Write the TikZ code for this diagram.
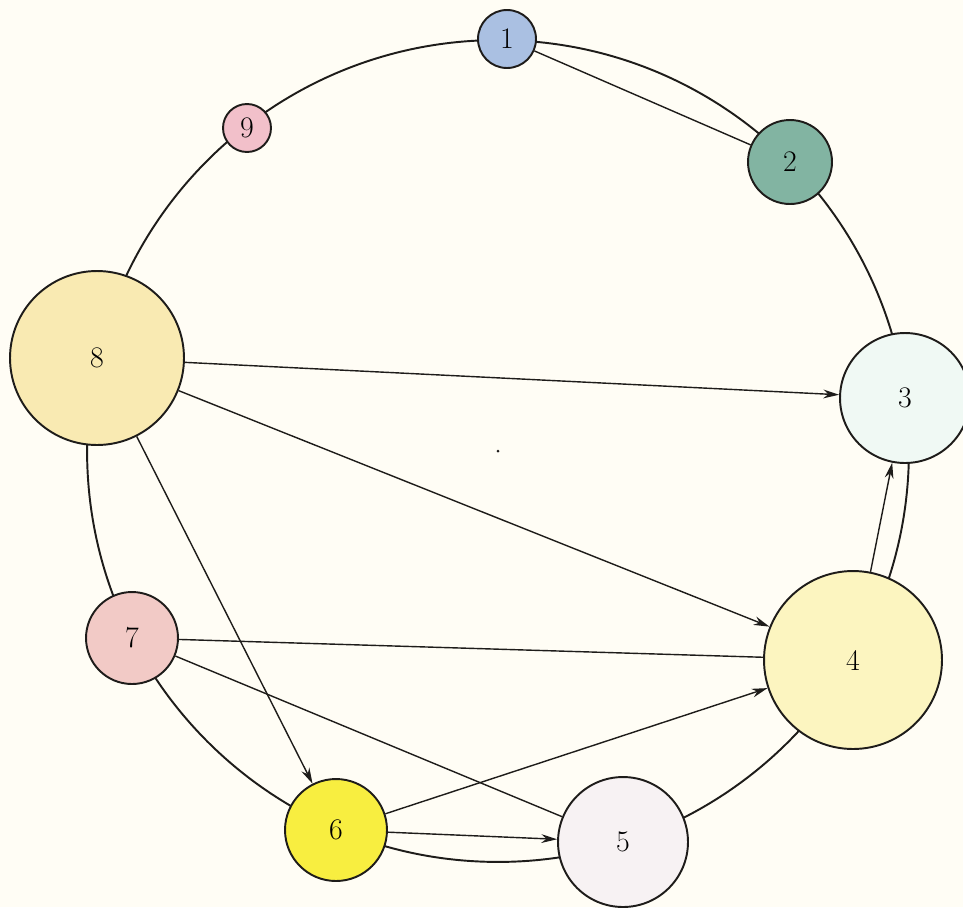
\documentclass[tikz,border=0pt]{standalone}
\usetikzlibrary{arrows.meta}
\definecolor{paper}{RGB}{255,253,245}
\definecolor{cOne}{RGB}{170,192,226}
\definecolor{cTwo}{RGB}{130,180,162}
\definecolor{cThree}{RGB}{240,249,244}
\definecolor{cFour}{RGB}{252,245,192}
\definecolor{cFive}{RGB}{247,242,243}
\definecolor{cSix}{RGB}{248,238,64}
\definecolor{cSeven}{RGB}{242,202,198}
\definecolor{cEight}{RGB}{249,234,178}
\definecolor{cNine}{RGB}{242,192,202}
\definecolor{ink}{RGB}{30,28,26}
\tikzset{
  vtx/.style={circle, draw=ink, line width=1.1pt, inner sep=0pt, font=\fontsize{17}{19}\selectfont},
  ring/.style={draw=ink, line width=1.1pt},
  link/.style={draw=ink, line width=0.8pt},
  arrowlink/.style={link, -{Stealth[length=9pt,width=5pt]}}
}
\begin{document}
\begin{tikzpicture}[x=0.02cm,y=-0.02cm]
\path[use as bounding box, fill=paper] (0,0) rectangle (963,907);
% the cycle through all vertices
\coordinate (ctr) at (498,451);
\draw[ring] (ctr) circle[radius=8.22cm];
\fill[ink] (ctr) circle[radius=0.03cm];
% vertices
\node[vtx, fill=cOne,   minimum size=1.16cm] (n1) at (507,39)  {1};
\node[vtx, fill=cTwo,   minimum size=1.68cm] (n2) at (790,162) {2};
\node[vtx, fill=cThree, minimum size=2.6cm]  (n3) at (905,398) {3};
\node[vtx, fill=cFour,  minimum size=3.56cm] (n4) at (853,660) {4};
\node[vtx, fill=cFive,  minimum size=2.6cm]  (n5) at (623,842) {5};
\node[vtx, fill=cSix,   minimum size=2.04cm] (n6) at (336,830) {6};
\node[vtx, fill=cSeven, minimum size=1.84cm] (n7) at (132,638) {7};
\node[vtx, fill=cEight, minimum size=3.48cm] (n8) at (97,358)  {8};
\node[vtx, fill=cNine,  minimum size=0.96cm] (n9) at (247,128) {9};
% chords
\draw[link] (n1) -- (n2);
\draw[link] (n7) -- (n4);
\draw[link] (n7) -- (n5);
\draw[arrowlink] (n8) -- (n3);
\draw[arrowlink] (n8) -- (n4);
\draw[arrowlink] (n8) -- (n6);
\draw[arrowlink] (n6) -- (n4);
\draw[arrowlink] (n6) -- (n5);
\draw[arrowlink] (n4) -- (n3);
\end{tikzpicture}
\end{document}
